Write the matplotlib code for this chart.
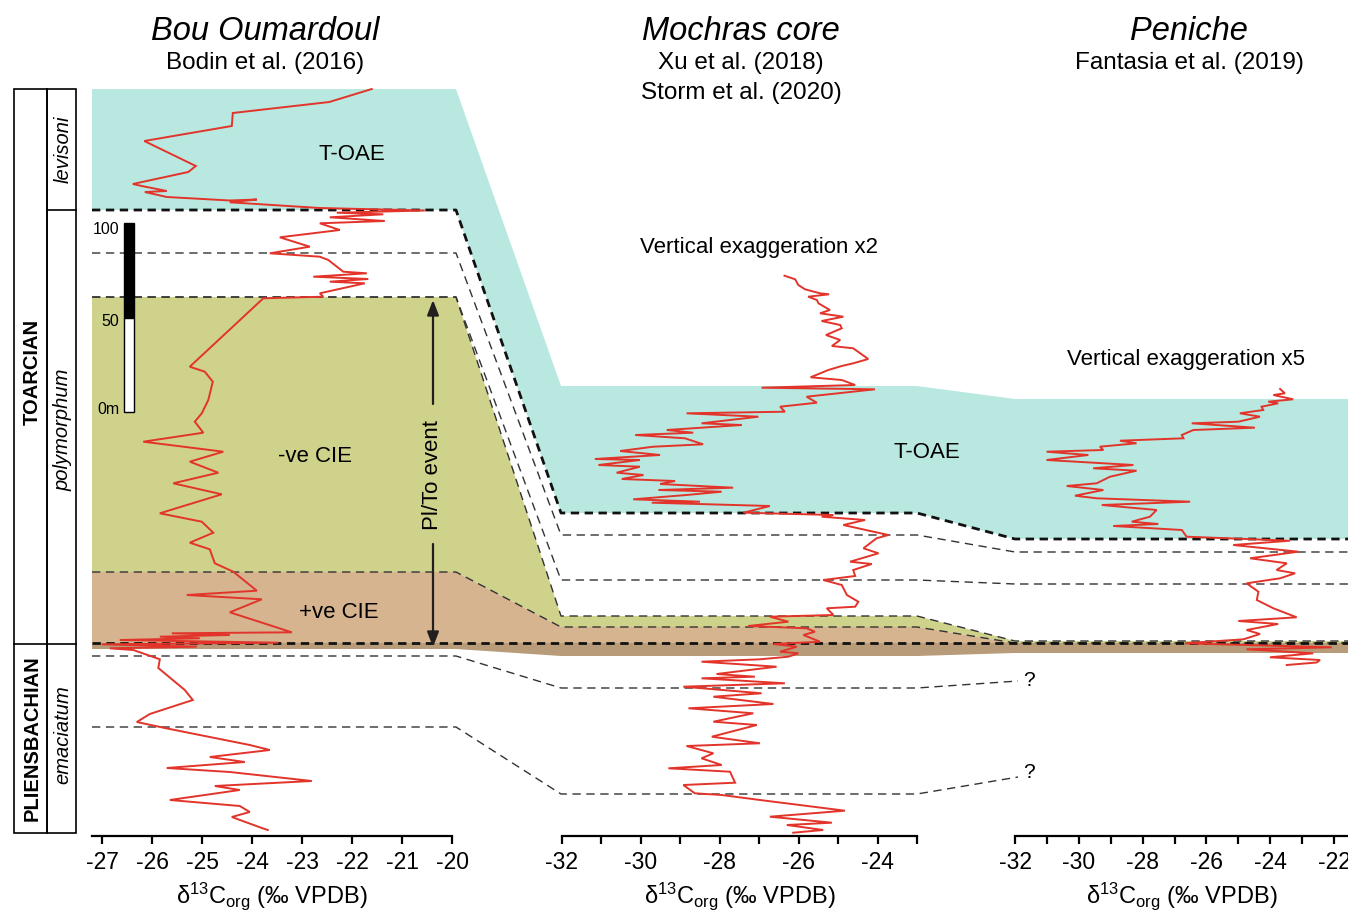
import matplotlib
matplotlib.use('Agg')
import matplotlib.pyplot as plt
from matplotlib.patches import Polygon, Rectangle

plt.rcParams['font.family'] = ['Liberation Sans', 'DejaVu Sans']
plt.rcParams['mathtext.fontset'] = 'custom'
plt.rcParams['mathtext.rm'] = 'Liberation Sans'
plt.rcParams['mathtext.it'] = 'Liberation Sans:italic'

W, H = 1348, 911
AXIS_Y = 836          # depth of the shared bottom axis line
RED = '#e2342a'

# ---------------------------------------------------------------- data
# Bou Oumardoul (Bodin et al. 2016): d13C and stratigraphic position
bou_d13c = [-21.61, -22.46, -24.39, -24.41, -26.16, -25.13, -25.28, -26.39, -26.21, -25.71,
            -26.15, -25.71, -24.45, -23.91, -24.45, -22.65, -20.55, -22.31, -21.38, -22.45,
            -21.35, -22.65, -22.25, -23.45, -22.85, -23.65, -22.65, -22.48, -22.18, -21.71,
            -22.78, -21.68, -22.45, -21.75, -22.65, -22.58, -23.78, -25.25, -24.95, -24.79,
            -24.88, -25.01, -25.15, -24.98, -26.18, -24.58, -25.25, -24.68, -25.58, -24.61,
            -25.85, -25.01, -24.78, -25.25, -24.85, -24.75, -24.38, -23.91, -25.31, -23.81,
            -24.45, -23.21, -25.61, -24.45, -25.85, -25.05, -26.65, -23.48, -27.01, -25.11,
            -26.85, -26.38, -25.85, -25.88, -25.35, -25.19, -26.05, -26.31, -25.75, -24.05,
            -23.65, -24.85, -24.15, -25.71, -24.45, -22.81, -24.75, -24.25, -25.65, -24.25,
            -24.05, -24.41, -23.81, -23.69]
bou_pos = [89, 102, 113, 126, 141, 166, 172, 184, 186, 191,
           192, 197, 200.5, 199.5, 202.3, 208, 210.5, 212.7, 214.3, 217.3,
           221, 223.3, 230, 237.3, 246.7, 253.3, 256.7, 260, 271.7, 273.3,
           276.7, 279, 281.7, 283.3, 293.3, 296.7, 298.3, 366.7, 371.7, 381.7,
           400, 413.3, 421.7, 432.7, 441.7, 451.7, 461.7, 472.7, 483.3, 494.3,
           513.3, 521.7, 532.7, 542.7, 549.3, 563.3, 571.7, 590.7, 595, 599.3,
           612.3, 632.3, 633.3, 635, 636.7, 638.3, 640, 642.7, 644.3, 646.7,
           648.3, 650, 659.3, 668, 690, 700, 714, 722, 728, 745,
           750, 757, 762, 768, 772, 781, 786, 790, 800, 806,
           812, 817, 828, 830]

# Mochras core (Xu et al. 2018; Storm et al. 2020)
moch_d13c = [-26.36, -26.09, -26.01, -25.84, -25.46, -25.23, -25.76, -25.54, -25.50, -25.21,
             -25.46, -24.87, -25.42, -24.95, -24.91, -25.31, -24.95, -25.16, -24.62, -24.24,
             -24.62, -24.91, -25.25, -25.70, -24.91, -24.57, -26.94, -24.07, -25.80, -25.54,
             -26.47, -26.35, -28.84, -27.02, -28.46, -27.44, -29.34, -28.67, -30.14, -28.88,
             -28.42, -29.68, -30.52, -29.51, -31.16, -30.02, -31.07, -30.02, -30.61, -29.93,
             -30.48, -29.13, -29.51, -27.66, -29.55, -27.95, -28.84, -30.19, -28.50, -29.72,
             -26.73, -27.40, -25.12, -25.42, -24.32, -24.87, -23.73, -24.03, -24.36, -23.98,
             -24.70, -24.15, -24.62, -24.57, -25.38, -24.91, -24.78, -24.49, -24.57, -25.29,
             -25.12, -26.73, -26.26, -27.28, -25.80, -25.59, -25.88, -25.46, -26.64, -26.05,
             -26.47, -26.01, -26.26, -26.98, -28.46, -26.56, -28.08, -27.11, -28.46, -26.35,
             -28.92, -26.94, -28.16, -26.64, -28.79, -27.15, -28.16, -27.06, -28.20, -26.98,
             -28.84, -28.16, -28.46, -27.95, -29.30, -27.74, -27.61, -28.92, -28.63, -27.95,
             -26.98, -24.83, -26.73, -25.16, -26.30, -25.38, -26.14]
moch_pos = [275.7, 279.3, 285, 289.3, 293.3, 294.3, 296.7, 300, 303.3, 310,
            313.3, 316.7, 321, 325, 328.3, 335, 340, 346, 348.3, 359,
            363.3, 366, 370, 377.3, 380, 385, 387.7, 389.3, 396.7, 402.7,
            406.7, 411.7, 413.3, 416.7, 423.3, 425, 430, 432.7, 435, 438.3,
            444.3, 446.7, 451, 455, 459, 460, 465, 466.7, 472.7, 475,
            479, 481, 484, 487.7, 490, 491.7, 495, 499.3, 501.7, 502.7,
            506, 512.7, 515, 516.7, 520, 525, 535, 538.3, 548.3, 553.3,
            561.7, 564, 570, 576, 580, 585, 595, 601.7, 606.7, 608.3,
            615, 616.7, 621.7, 626, 628.3, 631.7, 635, 641.7, 644, 646.7,
            651.7, 653.3, 656.7, 659.3, 661.7, 666.7, 674, 676.7, 678.3, 683.3,
            686.7, 693.3, 696.7, 704, 708.3, 713.3, 721.7, 725, 736.7, 743.3,
            746, 753.3, 758.3, 765, 768.3, 771.7, 782.7, 785, 793.3, 795,
            800, 810.7, 816.7, 822.7, 825, 830, 832.7]

# Peniche (Fantasia et al. 2019)
pen_d13c = [-23.69, -23.54, -23.90, -23.28, -24.06, -23.75, -24.27, -24.22, -24.95, -24.32,
            -25.00, -26.46, -24.48, -26.41, -26.77, -26.72, -28.71, -28.19, -29.34, -29.23,
            -31.01, -29.70, -31.01, -28.29, -29.55, -28.19, -29.02, -29.44, -30.38, -29.23,
            -30.12, -29.44, -26.51, -29.28, -27.56, -27.77, -28.34, -27.51, -28.92, -26.77,
            -26.62, -23.38, -25.16, -23.12, -24.63, -23.48, -23.80, -23.22, -23.69, -24.74,
            -24.37, -24.42, -23.90, -23.17, -25.00, -23.75, -24.74, -24.32, -24.84, -26.67,
            -22.07, -24.74, -22.65, -24.01, -22.44, -22.54, -23.48]
pen_pos = [389, 393.3, 395, 399.3, 401.7, 403.3, 406.7, 410, 413.3, 416.7,
           421.7, 423.3, 427.7, 430, 435, 438.3, 440.7, 443.3, 446.7, 450,
           451.7, 455, 460, 465, 468.3, 470.7, 476.7, 483.3, 486, 490,
           495.7, 498.3, 501.7, 505, 510, 516.7, 521.7, 524, 526, 530,
           536.7, 540.7, 545, 551.7, 558.3, 563.3, 570, 573.3, 578.3, 583.3,
           591.7, 600, 608.3, 617.3, 621, 624, 630, 634, 639.3, 643.3,
           647.3, 649.3, 653.3, 657.3, 660, 662.5, 665]

# correlated horizons: level in (Bou Oumardoul, Mochras, Peniche)
horizons = {
    'toae_top':  (89, 386, 399),
    'toae_base': (210, 513, 539),
    'h1':        (253, 535, 552),
    'h2':        (297, 580, 584),
    'ncie_top':  (297, 616, 641),
    'pcie_top':  (572, 627, 643),
    'pl_to':     (643, 643, 643),
    'dark_base': (649, 656, 653),
    'h3':        (656, 688, 681),
    'h4':        (727, 794, 777),
}

# ---------------------------------------------------------------- layout
col_x = [92, 456, 561, 917, 1015, 1348]


def horizon_line(name, open_end=False):
    b, m, p = horizons[name]
    xs = list(col_x)
    ys = [b, b, m, m, p, p]
    if open_end:
        xs, ys = xs[:4] + [1018], ys[:4] + [p]
    return xs, ys


def band(ax, top, base, color):
    xt, yt = horizon_line(top)
    xb, yb = horizon_line(base)
    pts = list(zip(xt, yt)) + list(zip(xb, yb))[::-1]
    ax.add_patch(Polygon(pts, closed=True, facecolor=color, edgecolor='none', zorder=1))


fig = plt.figure(figsize=(W / 100, H / 100), dpi=100)
bg = fig.add_axes([0, 0, 1, 1])
bg.set_xlim(0, W)
bg.set_ylim(H, 0)
bg.set_axis_off()

band(bg, 'toae_top', 'toae_base', '#b9e8e0')
band(bg, 'ncie_top', 'pcie_top', '#cfd28a')
band(bg, 'pcie_top', 'pl_to', '#d5b48f')
band(bg, 'pl_to', 'dark_base', '#b89b79')

thin = dict(color='#333333', lw=1.0, ls=(0, (6, 4)), zorder=2)
thick = dict(color='#111111', lw=2.0, ls=(0, (3, 2)), zorder=3)
for name in ['h1', 'h2', 'ncie_top', 'pcie_top']:
    bg.plot(*horizon_line(name), **thin)
for name in ['h3', 'h4']:
    bg.plot(*horizon_line(name, open_end=True), **thin)
for name in ['toae_base', 'pl_to']:
    bg.plot(*horizon_line(name), **thick)

bg.text(1029, 681, '?', fontsize=15, ha='center', va='center')
bg.text(1029, 772, '?', fontsize=15, ha='center', va='center')

# stratigraphic column
lw_col = 1.2
bg.add_patch(Rectangle((14, 89), 33, 744, fill=False, lw=lw_col, zorder=4))
bg.add_patch(Rectangle((47, 89), 29, 744, fill=False, lw=lw_col, zorder=4))
bg.plot([14, 76], [644, 644], color='k', lw=lw_col, zorder=4)
bg.plot([47, 76], [210, 210], color='k', lw=lw_col, zorder=4)
bg.text(32, 372, 'TOARCIAN', rotation=90, fontsize=14.5, fontweight='bold',
        ha='center', va='center')
bg.text(32, 738, 'PLIENSBACHIAN', rotation=90, fontsize=14.5, fontweight='bold',
        ha='center', va='center')
bg.text(63, 149, 'levisoni', rotation=90, fontsize=14.5, style='italic',
        ha='center', va='center')
bg.text(63, 430, 'polymorphum', rotation=90, fontsize=14.5, style='italic',
        ha='center', va='center')
bg.text(63, 735, 'emaciatum', rotation=90, fontsize=14.5, style='italic',
        ha='center', va='center')

# scale bar
bg.add_patch(Rectangle((124, 223), 10, 95, facecolor='black', edgecolor='black',
                       lw=1, zorder=4))
bg.add_patch(Rectangle((124, 318), 10, 94, facecolor='white', edgecolor='black',
                       lw=1, zorder=4))
bg.text(119, 229, '100', fontsize=11.5, ha='right', va='center')
bg.text(119, 322, '50', fontsize=11.5, ha='right', va='center')
bg.text(120, 410, '0m', fontsize=11.5, ha='right', va='center')

# PI/To event arrow
arrow = dict(arrowstyle='-|>,head_length=0.9,head_width=0.35', lw=1.6,
             color='#231f20', shrinkA=0, shrinkB=0)
bg.annotate('', xy=(433, 300), xytext=(433, 404), arrowprops=arrow)
bg.annotate('', xy=(433, 647), xytext=(433, 544), arrowprops=arrow)
bg.text(433, 475, 'Pl/To event', rotation=90, fontsize=16, ha='center', va='center')

# zone labels
bg.text(352, 154, 'T-OAE', fontsize=16, ha='center', va='center')
bg.text(927, 453, 'T-OAE', fontsize=16, ha='center', va='center')
bg.text(315, 456, '-ve CIE', fontsize=16, ha='center', va='center')
bg.text(339, 612, '+ve CIE', fontsize=16, ha='center', va='center')
bg.text(759, 248, 'Vertical exaggeration x2', fontsize=16, ha='center', va='center')
bg.text(1186, 360, 'Vertical exaggeration x5', fontsize=16, ha='center', va='center')

# titles
titles = [(265, 'Bou Oumardoul', ['Bodin et al. (2016)']),
          (741, 'Mochras core', ['Xu et al. (2018)', 'Storm et al. (2020)']),
          (1189, 'Peniche', ['Fantasia et al. (2019)'])]
for x, name, refs in titles:
    bg.text(x, 31, name, fontsize=23.5, style='italic', ha='center', va='center')
    for i, ref in enumerate(refs):
        bg.text(x, 63 + 30 * i, ref, fontsize=17.5, ha='center', va='center')


# ---------------------------------------------------------------- curves
def section_axes(left_px, xlim, px_per_unit, ticks, labelled):
    width_px = (xlim[1] - xlim[0]) * px_per_unit
    ax = fig.add_axes([left_px / W, (H - AXIS_Y) / H, width_px / W, AXIS_Y / H])
    ax.set_xlim(*xlim)
    ax.set_ylim(AXIS_Y, 0)
    ax.patch.set_alpha(0)
    for s in ['top', 'left', 'right']:
        ax.spines[s].set_visible(False)
    ax.spines['bottom'].set_linewidth(1.6)
    ax.set_yticks([])
    ax.set_xticks(ticks)
    ax.set_xticklabels([str(t) if t in labelled else '' for t in ticks])
    ax.tick_params(axis='x', direction='out', length=5.5, width=1.6,
                   labelsize=16.5, pad=5)
    ax.set_xlabel(r'δ$^{13}$C$_{\rm org}$ (‰ VPDB)', fontsize=17, labelpad=5)
    return ax


ax1 = section_axes(92.3, (-27.2, -20.0), 50.0, list(range(-27, -19)),
                   list(range(-27, -19)))
ax2 = section_axes(561.7, (-32, -23), 39.5, list(range(-32, -22)),
                   list(range(-32, -23, 2)))
ax3 = section_axes(1015, (-32, -21.55), 31.9, list(range(-32, -21)),
                   list(range(-32, -21, 2)))

for ax, d, z in [(ax1, bou_d13c, bou_pos), (ax2, moch_d13c, moch_pos),
                 (ax3, pen_d13c, pen_pos)]:
    ax.plot(d, z, color=RED, lw=1.4, solid_joinstyle='miter')

fig.savefig('out.png', dpi=100)
